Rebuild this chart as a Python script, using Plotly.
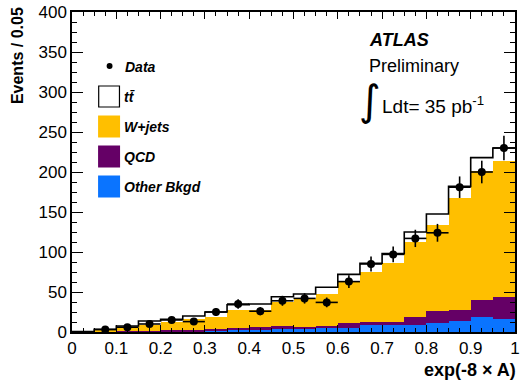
import numpy as np
import plotly.graph_objects as go

# ---- data ----
bin_edges = [round(0.05 * i, 2) for i in range(21)]
bin_centers = [round(0.025 + 0.05 * i, 3) for i in range(20)]

other_bkgd = [0.2, 0.4, 0.6, 0.8, 1.0, 1.2, 1.5, 2.0, 2.5, 3.3, 4.6, 4.6, 5.4, 8.8, 9.0, 9.2, 11.7, 13.7, 19.0, 16.0]
qcd = [0.1, 0.4, 0.6, 0.8, 1.0, 1.3, 2.0, 3.0, 4.2, 4.7, 2.1, 3.4, 5.6, 3.7, 3.5, 9.8, 15.0, 14.3, 21.0, 28.0]
wjets = [0.0, 1.7, 3.8, 7.4, 11.0, 13.5, 15.5, 23.0, 21.3, 30.0, 34.3, 39.0, 52.0, 62.5, 73.5, 94.0, 107.3, 139.0, 161.0, 170.0]
ttbar = [0.2, 1.0, 2.5, 4.7, 3.0, 4.0, 6.0, 6.0, 7.0, 6.0, 6.5, 9.0, 9.0, 11.0, 12.0, 12.0, 13.5, 15.0, 17.0, 16.0]
data = [None, 3, 6, 10, 15, 13, 25, 35, 26, 39, 42, 37, 63, 85, 97, 117, 124, 181, 200, 230]

x_ticks = [0, 0.1, 0.2, 0.3, 0.4, 0.5, 0.6, 0.7, 0.8, 0.9, 1]
x_ticklabels = ["0", "0.1", "0.2", "0.3", "0.4", "0.5", "0.6", "0.7", "0.8", "0.9", "1"]
y_ticks = [0, 50, 100, 150, 200, 250, 300, 350, 400]

C_OTHER = "#0A74FF"
C_QCD = "#650066"
C_WJ = "#FFBF00"

total = [o + q + w + t for o, q, w, t in zip(other_bkgd, qcd, wjets, ttbar)]

fig = go.Figure()
for vals, col in [(other_bkgd, C_OTHER), (qcd, C_QCD), (wjets, C_WJ), (ttbar, "white")]:
    fig.add_trace(go.Bar(x=bin_centers, y=vals, width=0.05, marker=dict(color=col, line=dict(width=0)),
                         showlegend=False, hoverinfo="skip"))

# step outline of the total (ttbar stacked top)
step_x = bin_edges
step_y = total + [total[-1]]
fig.add_trace(go.Scatter(x=step_x, y=step_y, mode="lines", line=dict(shape="hv", color="black", width=1.6),
                         showlegend=False, hoverinfo="skip"))

dx = [c for c, d in zip(bin_centers, data) if d is not None]
dy = [d for d in data if d is not None]
fig.add_trace(go.Scatter(
    x=dx, y=dy, mode="markers",
    marker=dict(color="black", size=8),
    error_y=dict(type="data", array=[np.sqrt(v) for v in dy], color="black", thickness=1.6, width=0),
    error_x=dict(type="constant", value=0.025, color="black", thickness=1.6, width=0),
    showlegend=False))

axis_font = dict(family="Liberation Sans, Arial, sans-serif", size=17, color="black")
fig.update_layout(
    width=523, height=388,
    margin=dict(l=72, r=3, t=12, b=56),
    paper_bgcolor="white", plot_bgcolor="white",
    barmode="stack", bargap=0,
    xaxis=dict(range=[0, 1], tickvals=x_ticks, ticktext=x_ticklabels, ticks="inside", ticklen=7, tickwidth=1,
               tickcolor="black", showline=True, linecolor="black", linewidth=1.5, mirror="ticks",
               showgrid=False, zeroline=False, tickfont=axis_font,
               minor=dict(dtick=0.025, tick0=0, ticks="inside", ticklen=4, tickcolor="black", showgrid=False)),
    yaxis=dict(range=[0, 400], tickvals=y_ticks, ticks="inside", ticklen=11, tickwidth=1,
               tickcolor="black", showline=True, linecolor="black", linewidth=1.5, mirror="ticks",
               showgrid=False, zeroline=False, tickfont=axis_font,
               minor=dict(dtick=12.5, tick0=0, ticks="inside", ticklen=5, tickcolor="black", showgrid=False)),
    font=dict(family="Liberation Sans, Arial, sans-serif", color="black"),
)

W, H = 523, 388
L, R, T, B = 72, 3, 12, 56
pw, ph = W - L - R, H - T - B

def px(x):
    return (x - L) / pw

def py(y):
    return (H - B - y) / ph

# axis titles
fig.add_annotation(text="<b>Events / 0.05</b>", textangle=-90, xref="paper", yref="paper",
                   x=px(17), y=py(5), xanchor="center", yanchor="top", showarrow=False,
                   font=dict(size=16, family="Liberation Sans, Arial, sans-serif"))
fig.add_annotation(text="<b>exp(-8 × A)</b>", xref="paper", yref="paper",
                   x=px(523), y=py(370), xanchor="right", yanchor="middle", showarrow=False,
                   font=dict(size=18, family="Liberation Sans, Arial, sans-serif"))

# legend (manual)
leg_font = dict(size=14, family="Liberation Sans, Arial, sans-serif")
fig.add_shape(type="circle", xref="paper", yref="paper", x0=px(107), x1=px(113), y0=py(63), y1=py(69),
              fillcolor="black", line=dict(width=0))
fig.add_annotation(text="<b><i>Data</i></b>", xref="paper", yref="paper", x=px(124), y=py(67),
                   xanchor="left", yanchor="middle", showarrow=False, font=leg_font)
boxes = [("white", "<b><i>tt̄</i></b>", 86), (C_WJ, "<b><i>W+jets</i></b>", 116),
         (C_QCD, "<b><i>QCD</i></b>", 146), (C_OTHER, "<b><i>Other Bkgd</i></b>", 176)]
for col, lab, ytop in boxes:
    fig.add_shape(type="rect", xref="paper", yref="paper", x0=px(99), x1=px(120), y0=py(ytop + 21), y1=py(ytop),
                  fillcolor=col, line=dict(color="black" if col == "white" else col, width=1.2))
    fig.add_annotation(text=lab, xref="paper", yref="paper", x=px(123), y=py(ytop + 11),
                       xanchor="left", yanchor="middle", showarrow=False, font=leg_font)

# ATLAS label
fig.add_annotation(text="<b><i>ATLAS</i></b>", xref="paper", yref="paper", x=px(370), y=py(40),
                   xanchor="left", yanchor="middle", showarrow=False,
                   font=dict(size=18, family="Liberation Sans, Arial, sans-serif"))
fig.add_annotation(text="Preliminary", xref="paper", yref="paper", x=px(370), y=py(66),
                   xanchor="left", yanchor="middle", showarrow=False,
                   font=dict(size=18, family="Liberation Sans, Arial, sans-serif"))
fig.add_annotation(text="∫", xref="paper", yref="paper", x=px(373), y=py(101),
                   xanchor="center", yanchor="middle", showarrow=False,
                   font=dict(size=42, family="DejaVu Sans, sans-serif"))
fig.add_annotation(text="Ldt= 35 pb<sup>-1</sup>", xref="paper", yref="paper", x=px(383), y=py(105),
                   xanchor="left", yanchor="middle", showarrow=False,
                   font=dict(size=19, family="Liberation Sans, Arial, sans-serif"))

fig.write_html("out.html")
